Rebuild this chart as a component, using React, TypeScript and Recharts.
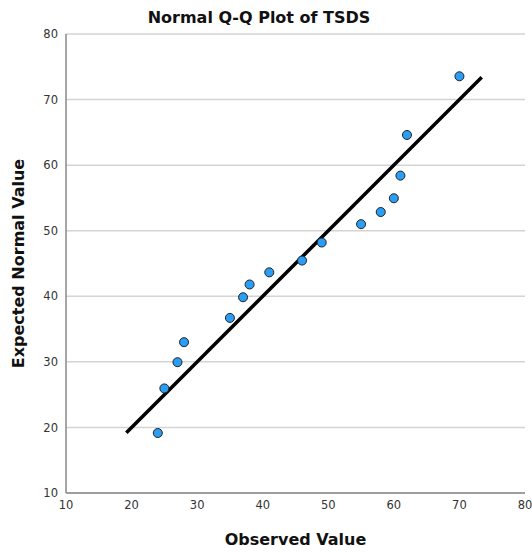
import React from "react";
import {
  ScatterChart,
  Scatter,
  XAxis,
  YAxis,
  CartesianGrid,
  Label,
} from "recharts";

// observed TSDS scores and their expected normal quantiles
const observed = [24, 25, 27, 28, 35, 37, 38, 41, 46, 49, 55, 58, 60, 61, 62, 70];
const expected = [
  19.15, 25.95, 29.95, 33.0, 36.7, 39.85, 41.8, 43.65, 45.45, 48.2, 51.0, 52.85,
  54.95, 58.4, 64.6, 73.55,
];
// reference line (y = x) end points
const lineX = [19.2, 73.4];

const ticks = [10, 20, 30, 40, 50, 60, 70, 80];

const points = observed.map((x, i) => ({ x, y: expected[i] }));
const refLine = lineX.map((v) => ({ x: v, y: v }));

const FONT = "'DejaVu Sans', sans-serif";

export default function App() {
  return (
    <div
      style={{
        position: "absolute",
        left: 0,
        top: 0,
        width: 532,
        height: 553,
        background: "#fff",
        fontFamily: FONT,
      }}
    >
      <div
        style={{
          position: "absolute",
          top: 8,
          left: 0,
          width: 518,
          textAlign: "center",
          fontWeight: "bold",
          fontSize: 16,
          color: "#111",
        }}
      >
        Normal Q-Q Plot of TSDS
      </div>
      <ScatterChart
        width={532}
        height={553}
        margin={{ top: 34, right: 7, bottom: 0, left: 0 }}
      >
        <CartesianGrid vertical={false} stroke="#d4d4d4" strokeWidth={1.5} />
        <XAxis
          type="number"
          dataKey="x"
          domain={[10, 80]}
          ticks={ticks}
          tickLine={false}
          axisLine={{ stroke: "#888", strokeWidth: 1.5 }}
          tick={{ fill: "#333", fontSize: 11.5, fontFamily: FONT }}
          tickMargin={2}
          height={60}
        >
          <Label
            value="Observed Value"
            position="insideBottom"
            offset={8}
            style={{ fontWeight: "bold", fontSize: 16, fill: "#111", fontFamily: FONT }}
          />
        </XAxis>
        <YAxis
          type="number"
          dataKey="y"
          domain={[10, 80]}
          ticks={ticks}
          tickLine={false}
          axisLine={{ stroke: "#888", strokeWidth: 1.5 }}
          tick={{ fill: "#333", fontSize: 11.5, fontFamily: FONT }}
          tickMargin={2}
          width={66}
        >
          <Label
            value="Expected Normal Value"
            angle={-90}
            position="insideLeft"
            offset={18}
            style={{
              fontWeight: "bold",
              fontSize: 16,
              fill: "#111",
              fontFamily: FONT,
              textAnchor: "middle",
            }}
          />
        </YAxis>
        <Scatter
          data={refLine}
          line={{ stroke: "#000", strokeWidth: 3.5 }}
          shape={() => null}
          isAnimationActive={false}
        />
        <Scatter
          data={points}
          fill="#2a9df4"
          stroke="#222"
          strokeWidth={1}
          shape="circle"
          isAnimationActive={false}
        />
      </ScatterChart>
    </div>
  );
}
